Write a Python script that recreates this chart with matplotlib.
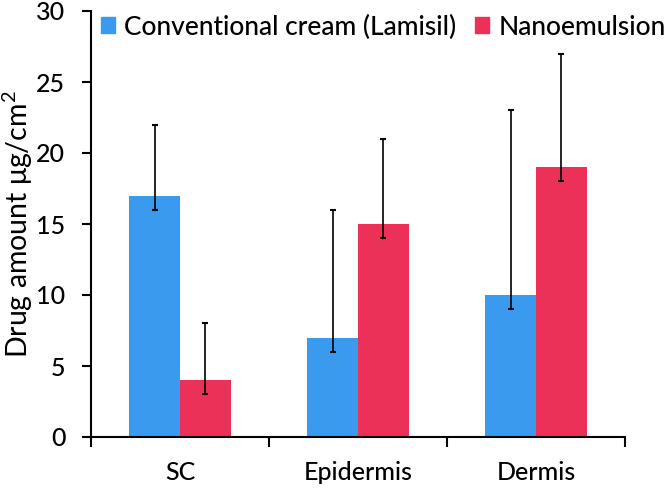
import matplotlib
matplotlib.use("Agg")
import matplotlib.pyplot as plt
import numpy as np
from matplotlib.patches import Patch

categories = ["SC", "Epidermis", "Dermis"]
series_names = ["Conventional cream (Lamisil)", "Nanoemulsion"]
conventional = [17, 7, 10]
conventional_upper = [22, 16, 23]
conventional_lower = [16, 6, 9]
nano = [4, 15, 19]
nano_upper = [8, 21, 27]
nano_lower = [3, 14, 18]
yticks = [0, 5, 10, 15, 20, 25, 30]

blue = "#3A9AEE"
red = "#EC3159"

plt.rcParams['font.family'] = ['Lato', 'DejaVu Sans']
plt.rcParams['font.weight'] = 'medium'
plt.rcParams['mathtext.fontset'] = 'custom'
plt.rcParams['mathtext.rm'] = 'Lato'
plt.rcParams['mathtext.it'] = 'Lato'
plt.rcParams['mathtext.default'] = 'regular'

fig = plt.figure(figsize=(6.66, 4.88), dpi=100)
ax = fig.add_axes([91/666, 1-437/488, (625-91)/666, (437-11)/488])

x = np.arange(len(categories))
w = 0.285
conv = np.array(conventional)
nn = np.array(nano)
err_c = [conv - np.array(conventional_lower), np.array(conventional_upper) - conv]
err_n = [nn - np.array(nano_lower), np.array(nano_upper) - nn]

ax.bar(x - w/2, conv, w, color=blue, zorder=2)
ax.bar(x + w/2, nn, w, color=red, zorder=2)
ax.errorbar(x - w/2, conv, yerr=err_c, fmt='none', ecolor='black', elinewidth=1.2, capsize=2.5, capthick=1.5, zorder=3)
ax.errorbar(x + w/2, nn, yerr=err_n, fmt='none', ecolor='black', elinewidth=1.2, capsize=2.5, capthick=1.5, zorder=3)

ax.set_xlim(-0.5, len(categories) - 0.5)
ax.set_ylim(0, 30)
ax.set_yticks(yticks)
ax.set_xticks(x)
ax.set_xticklabels(categories, fontsize=18)
ax.set_xticks(np.arange(-0.5, len(categories), 1.0), minor=True)
ax.tick_params(axis='x', which='major', length=0, pad=17)
ax.tick_params(axis='x', which='minor', length=7, width=1.5, direction='out')
ax.tick_params(axis='y', length=6.5, width=1.5, direction='out', labelsize=18, pad=12)

for s in ['top', 'right']:
    ax.spines[s].set_visible(False)
for s in ['left', 'bottom']:
    ax.spines[s].set_linewidth(1.5)

ax.set_ylabel("Drug amount μg/cm$^{2}$", fontsize=20.5)
ax.yaxis.set_label_coords(-0.104, 0.5)

handles = [Patch(color=blue), Patch(color=red)]
fig.legend(handles, series_names, loc='upper left', bbox_to_anchor=(86/666, 1.0), ncol=2,
           frameon=False, fontsize=19, handlelength=0.55, handleheight=0.55,
           handletextpad=0.35, columnspacing=0.7, borderaxespad=0.15)

fig.savefig("out.png", dpi=100)
